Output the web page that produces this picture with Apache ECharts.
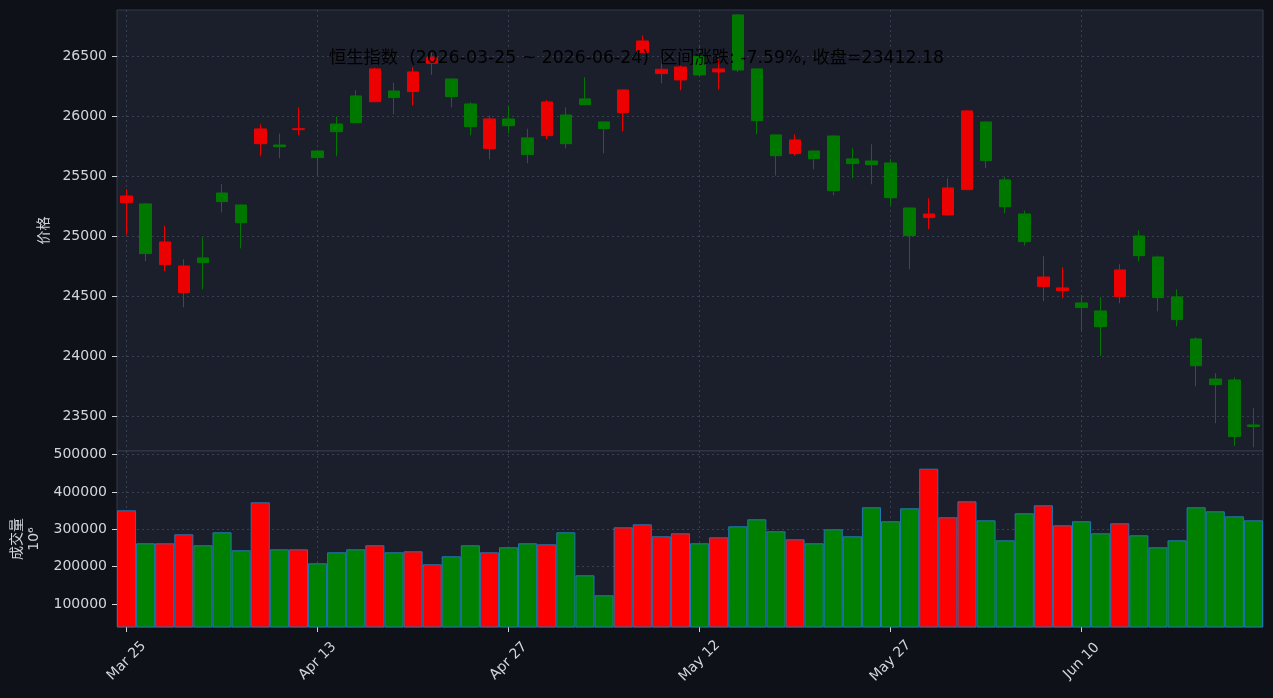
<!DOCTYPE html>
<html>
<head>
<meta charset="utf-8">
<script src="https://cdn.jsdelivr.net/npm/echarts@6/dist/echarts.min.js"></script>
<style>
html,body{margin:0;padding:0;background:#0e1117;}
#chart{width:1273px;height:698px;}
</style>
</head>
<body>
<div id="chart"></div>
<script>
const dates = [
  '2026-03-25','2026-03-26','2026-03-27','2026-03-30','2026-03-31','2026-04-01','2026-04-02','2026-04-08','2026-04-09','2026-04-10',
  '2026-04-13','2026-04-14','2026-04-15','2026-04-16','2026-04-17','2026-04-20','2026-04-21','2026-04-22','2026-04-23','2026-04-24',
  '2026-04-27','2026-04-28','2026-04-29','2026-04-30','2026-05-04','2026-05-05','2026-05-06','2026-05-07','2026-05-08','2026-05-11',
  '2026-05-12','2026-05-13','2026-05-14','2026-05-15','2026-05-18','2026-05-19','2026-05-20','2026-05-21','2026-05-22','2026-05-26',
  '2026-05-27','2026-05-28','2026-05-29','2026-06-01','2026-06-02','2026-06-03','2026-06-04','2026-06-05','2026-06-08','2026-06-09',
  '2026-06-10','2026-06-11','2026-06-12','2026-06-15','2026-06-16','2026-06-17','2026-06-18','2026-06-22','2026-06-23','2026-06-24'
];
const opens = [
  25278,25267,24761,24528,24817,25358,25258,25769,25758,25886,
  25708,25933,26167,26119,26208,26203,26439,26308,26100,25728,
  25975,25817,25836,26008,26142,25950,26028,26528,26353,26300,
  26494,26367,26842,26392,25842,25686,25708,25833,25642,25625,
  25608,25233,25153,25175,25386,25950,25467,25183,24578,24544,
  24442,24375,24494,25000,24825,24492,24142,23808,23800,23425
];
const closes = [
  25333,24853,24950,24750,24778,25286,25111,25892,25744,25894,
  25653,25869,25944,26392,26153,26367,26489,26161,25911,25975,
  25919,25678,26117,25769,26094,25894,26217,26625,26389,26408,
  26342,26392,26383,25961,25669,25800,25644,25378,25603,25594,
  25319,25003,25183,25400,26042,25628,25244,24953,24658,24567,
  24403,24244,24717,24836,24486,24303,23919,23761,23328,23412.18
];
const lows = [
  25011,24789,24706,24406,24556,25197,24897,25664,25647,25839,
  25503,25664,25940,26115,26014,26089,26342,26072,25839,25639,
  25856,25606,25806,25731,26089,25689,25872,26524,26272,26214,
  26328,26219,26364,25847,25503,25669,25556,25339,25481,25431,
  25256,24722,25056,25170,25383,25564,25189,24919,24456,24481,
  24206,24000,24439,24789,24372,24247,23747,23439,23250,23239
];
const highs = [
  25389,25272,25086,24806,24989,25431,25262,25931,25853,26072,
  25712,25994,26214,26403,26278,26408,26528,26312,26114,26003,
  26078,25894,26133,26072,26322,25953,26220,26672,26472,26419,
  26592,26472,26850,26395,25845,25847,25712,25836,25731,25764,
  25642,25236,25314,25481,26050,25953,25494,25211,24831,24739,
  24506,24489,24764,25047,24836,24556,24156,23856,23822,23564
];
const volumes = [
  351000,262600,262600,286700,257300,292100,243900,372400,246500,246500,
  209000,238500,246500,257300,238500,241200,206400,227800,257300,238500,
  251900,262600,259900,292100,176900,123300,305500,313500,281400,289400,
  262600,278700,308200,326900,294800,273300,262600,300100,281400,359100,
  321600,356400,462500,332300,375100,324200,270600,343000,364400,310800,
  321600,289400,316200,284000,251900,270600,359100,348300,334900,324200
];
const priceTicks = [23500, 24000, 24500, 25000, 25500, 26000, 26500];
const volumeTicks = [100000, 200000, 300000, 400000, 500000];
const titleText = '恒生指数  (2026-03-25 ~ 2026-06-24)  区间涨跌: -7.59%, 收盘=23412.18';

const UP = '#ec0000', DOWN = '#007800';
const VUP = '#ff0000', VDOWN = '#008000';
const monthNames = ['Jan','Feb','Mar','Apr','May','Jun','Jul','Aug','Sep','Oct','Nov','Dec'];
const fmtDate = s => monthNames[parseInt(s.slice(5,7),10)-1] + ' ' + s.slice(8,10);

const kData = dates.map((d,i) => [opens[i], closes[i], lows[i], highs[i]]);
const vData = volumes.map((v,i) => ({
  value: v,
  itemStyle: { color: closes[i] > opens[i] ? VUP : VDOWN }
}));

const FONT = "'DejaVu Sans', 'Noto Sans CJK SC', sans-serif";
const LABEL = '#d2d5dc';
const splitDotted = { show: true, lineStyle: { color: '#393e50', type: [2, 3], width: 1 } };
const plain = v => String(Math.round(v));

const chart = echarts.init(document.getElementById('chart'), null, { renderer: 'canvas' });
chart.setOption({
  backgroundColor: '#0e1117',
  animation: false,
  textStyle: { fontFamily: FONT },
  title: {
    text: titleText,
    left: 'center',
    top: 45,
    textStyle: { color: '#000000', fontSize: 17.3, fontWeight: 'normal', fontFamily: FONT }
  },
  grid: [
    { left: 117, right: 10, top: 10, height: 441, show: true, backgroundColor: '#1b1f2c', borderColor: '#343a4b', borderWidth: 1 },
    { left: 117, right: 10, top: 451, height: 176, show: true, backgroundColor: '#1b1f2c', borderColor: '#343a4b', borderWidth: 1 }
  ],
  xAxis: [
    {
      type: 'category', gridIndex: 0, data: dates, boundaryGap: true,
      axisLine: { show: false }, axisTick: { show: false }, axisLabel: { show: false },
      splitLine: Object.assign({ interval: 9, alignWithLabel: true }, splitDotted)
    },
    {
      type: 'category', gridIndex: 1, data: dates, boundaryGap: true,
      axisLine: { show: false },
      axisTick: { show: true, interval: 9, alignWithLabel: true, length: 5, lineStyle: { color: LABEL } },
      axisLabel: { interval: 9, rotate: 45, align: 'center', verticalAlign: 'middle',
        color: LABEL, fontSize: 14, margin: 34, formatter: fmtDate, fontFamily: FONT },
      splitLine: Object.assign({ interval: 9, alignWithLabel: true }, splitDotted)
    }
  ],
  yAxis: [
    {
      type: 'value', gridIndex: 0, min: 23208, max: 26883, splitNumber: 7,
      name: '价格', nameLocation: 'middle', nameRotate: 90, nameGap: 62,
      nameTextStyle: { color: LABEL, fontSize: 14, fontFamily: FONT },
      axisLine: { show: false },
      axisTick: { show: true, length: 5, customValues: priceTicks, lineStyle: { color: LABEL } },
      axisLabel: { color: LABEL, fontSize: 14, margin: 10, fontFamily: FONT, customValues: priceTicks, formatter: plain },
      splitLine: splitDotted
    },
    {
      type: 'value', gridIndex: 1, min: 38400, max: 509900, splitNumber: 5,
      name: '成交量\n10⁶', nameLocation: 'middle', nameRotate: 90, nameGap: 72,
      nameTextStyle: { color: LABEL, fontSize: 14, lineHeight: 17, fontFamily: FONT },
      axisLine: { show: false },
      axisTick: { show: true, length: 5, customValues: volumeTicks, lineStyle: { color: LABEL } },
      axisLabel: { color: LABEL, fontSize: 14, margin: 10, fontFamily: FONT, customValues: volumeTicks, formatter: plain },
      splitLine: splitDotted
    }
  ],
  series: [
    {
      type: 'candlestick', xAxisIndex: 0, yAxisIndex: 0, data: kData,
      barWidth: 12,
      itemStyle: { color: UP, color0: DOWN, borderColor: UP, borderColor0: DOWN, borderWidth: 1 }
    },
    {
      type: 'bar', xAxisIndex: 1, yAxisIndex: 1, data: vData,
      barCategoryGap: '0%',
      itemStyle: { borderColor: '#1f77b4', borderWidth: 1 }
    }
  ]
});
</script>
</body>
</html>
